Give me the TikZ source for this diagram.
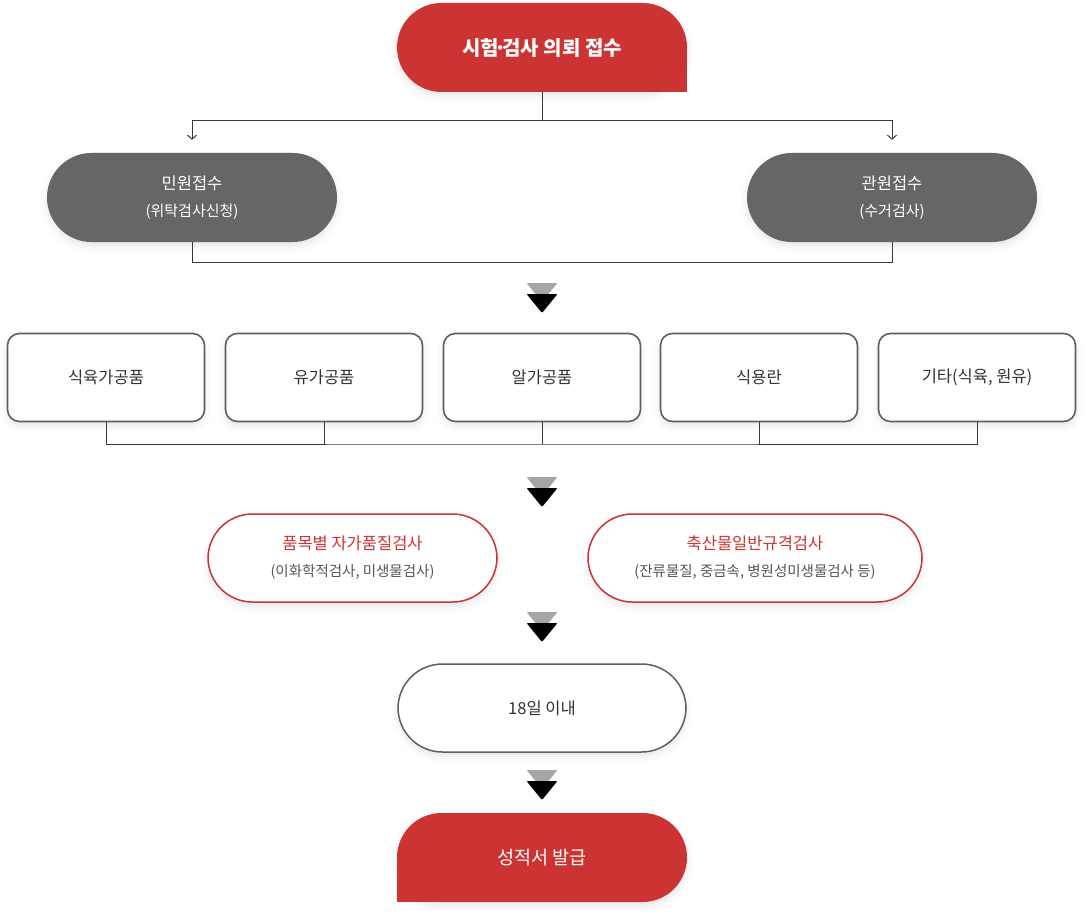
\documentclass[tikz,border=0pt]{standalone}
\usepackage{fontspec}
\setmainfont{Noto Sans CJK KR}
\usetikzlibrary{arrows.meta,shadows.blur}
\definecolor{cred}{RGB}{204,51,51}
\definecolor{cgray}{RGB}{102,102,102}
\definecolor{cline}{RGB}{51,58,64}
\definecolor{cedge}{RGB}{92,95,106}
\definecolor{ctext}{RGB}{51,51,51}
\definecolor{csub}{RGB}{85,85,85}
\newcommand\headsize{\fontsize{16.5}{27}\selectfont}
\newcommand\subsize{\fontsize{15}{27}\selectfont}
\tikzset{
  flow/.style={x=1pt,y=-1pt},
  soft/.style={blur shadow={shadow xshift=0pt,shadow yshift=-4pt,shadow blur radius=7pt,shadow opacity=10}},
  pill/.style={soft,rounded corners=44.5pt,minimum width=290pt,minimum height=89pt,inner sep=0pt,
    align=center,font=\subsize},
  card/.style={soft,rounded corners=12pt,draw=cedge,line width=1.6pt,fill=white,text=ctext,
    minimum width=197pt,minimum height=88pt,font=\fontsize{16.5}{20}\selectfont},
  link/.style={draw=cline,line width=1pt},
  dblarrow/.pic={
    \fill[black!35,rounded corners=1pt] (-15.5,0) -- (15.5,0) -- (0,19) -- cycle;
    \fill[black,rounded corners=1pt] (-15.5,11) -- (15.5,11) -- (0,30) -- cycle;
  }
}

\begin{document}
\begin{tikzpicture}[flow]
  \useasboundingbox (0,0) rectangle (1091,920);
  % request
  \node[pill,fill=cred] (req) at (542,47.5) {};
  \fill[cred] (req.south) rectangle (req.east);
  \node[text=white,font=\fontsize{20}{24}\selectfont\bfseries] (reqtext) at (req.center)
    {시험\kern-.22em·\kern-.22em검사 의뢰 접수};
  \node[pill,fill=cgray,text=white] (minwon) at (192,197.5) {{\headsize 민원접수}\\(위탁검사신청)};
  \node[pill,fill=cgray,text=white] (gwanwon) at (892,197.5) {{\headsize 관원접수}\\(수거검사)};
  \coordinate (split) at (542,121);
  \draw[link] (req.south) -- (split);
  \draw[link,-{Straight Barb[length=4pt,width=9pt]}] (split) -| ([yshift=13pt]minwon.north);
  \draw[link,-{Straight Barb[length=4pt,width=9pt]}] (split) -| ([yshift=13pt]gwanwon.north);
  \draw[link] (minwon.south) -- ++(0,20) -| (gwanwon.south);
  \pic at (542,283) {dblarrow};
  % products
  \foreach \n/\x/\t in {1/106/식육가공품,2/324/유가공품,3/542/알가공품,4/759/식용란,5/977/{기타(식육, 원유)}}
    \node[card] (b\n) at (\x,377.5) {\t};
  \coordinate (merge) at (542,444);
  \draw[link] (b1.south) |- (merge) -| (b5.south);
  \foreach \n in {2,3,4} \draw[link] (b\n.south) -- (b\n.south |- merge);
  \pic at (542,477) {dblarrow};
  % tests
  \node[pill,minimum width=289pt,minimum height=88pt,draw=cred,line width=1.5pt,fill=white,font=\fontsize{14.5}{27}\selectfont] (selfchk) at (352.5,558)
    {\textcolor{cred}{\headsize 품목별 자가품질검사}\\\textcolor{csub}{(이화학적검사, 미생물검사)}};
  \node[pill,minimum width=334pt,minimum height=88pt,draw=cred,line width=1.5pt,fill=white,font=\fontsize{14.5}{27}\selectfont] (general) at (755,558)
    {\textcolor{cred}{\headsize 축산물일반규격검사}\\\textcolor{csub}{(잔류물질, 중금속, 병원성미생물검사 등)}};
  \pic at (542,612) {dblarrow};
  \node[pill,minimum width=288pt,minimum height=88pt,draw=cedge,line width=1.5pt,fill=white,text=ctext,
    font=\fontsize{16.5}{20}\selectfont] (within) at (542,708) {18일 이내};
  \pic at (542,770) {dblarrow};
  % report
  \node[pill,fill=cred] (report) at (542,857.5) {};
  \fill[cred] (report.west) rectangle (report.south);
  \node[text=white,font=\fontsize{18.5}{22}\selectfont] (reporttext) at (report.center) {성적서 발급};
\end{tikzpicture}
\end{document}
